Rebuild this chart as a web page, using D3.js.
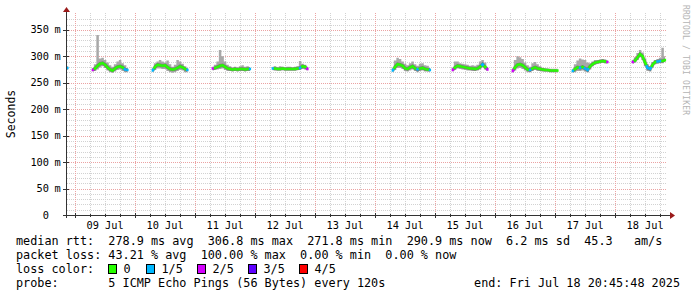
<!DOCTYPE html>
<html>
<head>
<meta charset="utf-8">
<script src="https://cdn.jsdelivr.net/npm/d3@7"></script>
<style>
  body { margin: 0; background: #fff; }
  text { font-family: "DejaVu Sans Mono", monospace; }
</style>
</head>
<body>
<div id="chart"></div>
<script>
// one entry per data run (hourly values from the start time)
const segStart = [
  "2025-07-08 20:00", "2025-07-09 07:00", "2025-07-10 07:00", "2025-07-11 07:00",
  "2025-07-12 07:00", "2025-07-14 07:00", "2025-07-15 07:00", "2025-07-16 07:00",
  "2025-07-17 07:00", "2025-07-18 07:00"
];
const medianRtt = [
  [278, 278],
  [274, 277, 282, 286, 287, 284, 279, 275, 273, 277, 280, 281, 279, 275, 274],
  [273, 280, 284, 283, 282, 283, 279, 276, 275, 276, 278, 281, 279, 276, 274],
  [277, 278, 280, 282, 283, 280, 277, 276, 275, 276, 275, 276, 276, 275, 276, 276],
  [277, 277, 276, 276, 277, 276, 276, 276, 276, 276, 277, 278, 281, 280, 276],
  [273, 280, 285, 284, 282, 277, 276, 279, 281, 277, 275, 277, 278, 276, 275, 274],
  [274, 279, 282, 281, 280, 279, 278, 277, 277, 276, 277, 280, 285, 280, 275],
  [272, 279, 284, 285, 283, 279, 275, 274, 277, 279, 277, 276, 275, 274, 274, 273, 273, 273, 273],
  [272, 276, 279, 278, 280, 277, 274, 281, 285, 288, 289, 290, 291, 290, 289],
  [289, 292, 298, 304, 300, 288, 278, 276, 284, 289, 290, 291, 291, 293]
];
const smokeHi = [
  [281, 281],
  [278, 285, 340, 296, 297, 293, 288, 283, 280, 285, 290, 293, 287, 283, 278],
  [276, 287, 290, 293, 290, 288, 292, 285, 280, 284, 293, 290, 286, 281, 277],
  [279, 284, 290, 312, 300, 290, 284, 281, 279, 280, 279, 281, 283, 280, 281, 279],
  [279, 281, 279, 281, 280, 279, 280, 280, 279, 280, 281, 291, 286, 284, 278],
  [276, 292, 297, 295, 290, 286, 283, 287, 290, 285, 282, 286, 287, 283, 282, 278],
  [277, 290, 290, 287, 286, 285, 284, 282, 283, 282, 284, 290, 293, 288, 279],
  [276, 293, 300, 298, 295, 288, 283, 280, 287, 289, 285, 281, 278, 277, 276, 276, 275, 275, 275],
  [275, 285, 292, 296, 294, 293, 288, 287, 290, 293, 293, 294, 295, 294, 291],
  [292, 298, 306, 312, 307, 296, 285, 281, 289, 293, 295, 297, 316, 300]
];
const smokeLo = [
  [274, 274],
  [271, 272, 275, 279, 281, 278, 273, 270, 269, 271, 274, 275, 272, 270, 270],
  [270, 274, 277, 277, 276, 276, 272, 270, 269, 270, 272, 274, 273, 270, 270],
  [273, 274, 275, 276, 277, 274, 272, 272, 271, 272, 271, 272, 272, 271, 272, 272],
  [274, 273, 273, 273, 274, 273, 273, 273, 273, 273, 274, 274, 276, 275, 273],
  [270, 274, 278, 278, 276, 272, 271, 273, 275, 272, 270, 272, 273, 271, 271, 271],
  [271, 274, 277, 276, 275, 274, 273, 273, 272, 272, 273, 275, 279, 275, 272],
  [269, 273, 277, 278, 276, 273, 270, 270, 272, 274, 272, 272, 271, 271, 271, 270, 270, 270, 270],
  [269, 270, 272, 272, 273, 271, 270, 275, 281, 284, 286, 287, 288, 287, 287],
  [286, 288, 293, 298, 293, 281, 272, 271, 279, 285, 286, 287, 287, 289]
];
// lost pings out of 5, one digit per hour
const lossFifths = [
  "11",
  "200000000000011",
  "100000000000001",
  "2000000000000001",
  "100000000001002",
  "1000000000100001",
  "200000000000102",
  "2000000100000000000",
  "100101100000002",
  "20000011001100"
];
const lossColors = ["#26ff00", "#00b8ff", "#d400ff", "#5e00ff", "#ff0000"];
const lossLabels = ["0", "1/5", "2/5", "3/5", "4/5"];
const yTicks = [0, 50, 100, 150, 200, 250, 300, 350];

const legendLines = [
  "median rtt:  278.9 ms avg  306.8 ms max  271.8 ms min  290.9 ms now  6.2 ms sd  45.3   am/s",
  "packet loss: 43.21 % avg  100.00 % max  0.00 % min  0.00 % now",
  "loss color:",
  "probe:       5 ICMP Echo Pings (56 Bytes) every 120s"
];
const endLabel = "end: Fri Jul 18 20:45:48 2025";

const W = 697, H = 297;
const parseT = d3.timeParse("%Y-%m-%d %H:%M:%S");
const t0 = parseT("2025-07-08 20:45:48"), t1 = parseT("2025-07-18 20:45:48");
const pL = 67, pR = 667, pT = 15, pB = 215;

const x = d3.scaleTime().domain([t0, t1]).range([pL, pR]);
const y = d3.scaleLinear().domain([0, 378]).range([pB, pT]);

const svg = d3.select("#chart").append("svg")
  .attr("width", W).attr("height", H)
  .style("display", "block");
svg.append("rect").attr("width", W).attr("height", H).attr("fill", "#fff");

svg.append("clipPath").attr("id", "clip")
  .append("rect").attr("x", pL).attr("y", pT - 3)
  .attr("width", pR - pL).attr("height", pB - pT + 3);

// grid
const grid = svg.append("g").attr("stroke-dasharray", "1,1").attr("stroke-width", 1);
const minorY = d3.range(10, 378, 10).filter(v => v % 50 !== 0);
grid.selectAll(".ym").data(minorY).enter().append("line")
  .attr("x1", pL).attr("x2", pR)
  .attr("y1", d => Math.round(y(d)) + 0.5).attr("y2", d => Math.round(y(d)) + 0.5)
  .attr("stroke", "#d2d2d2");
const hours6 = d3.timeHour.every(6).range(t0, t1).filter(d => d.getHours() !== 0);
grid.selectAll(".xm").data(hours6).enter().append("line")
  .attr("x1", d => Math.round(x(d)) + 0.5).attr("x2", d => Math.round(x(d)) + 0.5)
  .attr("y1", pT - 2).attr("y2", pB)
  .attr("stroke", "#d2d2d2");
grid.selectAll(".yM").data(yTicks.filter(d => d > 0)).enter().append("line")
  .attr("x1", pL).attr("x2", pR)
  .attr("y1", d => Math.round(y(d)) + 0.5).attr("y2", d => Math.round(y(d)) + 0.5)
  .attr("stroke", "#eba3a3");
const days = d3.timeDay.range(t0, t1);
grid.selectAll(".xM").data(days).enter().append("line")
  .attr("x1", d => Math.round(x(d)) + 0.5).attr("x2", d => Math.round(x(d)) + 0.5)
  .attr("y1", pT - 2).attr("y2", pB)
  .attr("stroke", "#eba3a3");

// data
const plot = svg.append("g").attr("clip-path", "url(#clip)");
const runs = segStart.map((s, i) => {
  const st = parseT(s + ":00");
  return medianRtt[i].map((v, j) => ({
    t: d3.timeHour.offset(st, j), med: v, hi: smokeHi[i][j], lo: smokeLo[i][j],
    loss: +lossFifths[i][j]
  }));
});

const smoke = d3.area().curve(d3.curveStep)
  .x(d => x(d.t)).y0(d => y(d.lo)).y1(d => y(d.hi));
plot.selectAll(".smoke").data(runs).enter().append("path")
  .attr("d", smoke).attr("fill", "#a8a8a8");

const medLine = d3.line().x(d => x(d.t)).y(d => y(d.med));
plot.selectAll(".medshade").data(runs).enter().append("path")
  .attr("d", medLine).attr("fill", "none")
  .attr("stroke", "#444").attr("stroke-width", 3.5).attr("stroke-opacity", 0.45);

runs.forEach(run => {
  run.forEach((d, j) => {
    const px = x(d.t), py = y(d.med);
    const pts = [];
    if (j > 0) pts.push([(x(run[j - 1].t) + px) / 2, (y(run[j - 1].med) + py) / 2]);
    else pts.push([px - 1, py]);
    pts.push([px, py]);
    if (j < run.length - 1) pts.push([(x(run[j + 1].t) + px) / 2, (y(run[j + 1].med) + py) / 2]);
    else pts.push([px + 1, py]);
    plot.append("path").attr("d", d3.line()(pts))
      .attr("fill", "none").attr("stroke", lossColors[d.loss])
      .attr("stroke-width", 2.5).attr("stroke-linecap", "butt");
  });
});

// axes
const axisCol = "#333";
const ax = svg.append("g").attr("stroke", axisCol).attr("stroke-width", 1);
ax.append("line").attr("x1", 63).attr("x2", 670).attr("y1", pB + 0.5).attr("y2", pB + 0.5);
ax.append("line").attr("x1", pL - 0.5).attr("x2", pL - 0.5).attr("y1", 218).attr("y2", 11);
ax.selectAll(".tx").data(days).enter().append("line")
  .attr("x1", d => Math.round(x(d)) + 0.5).attr("x2", d => Math.round(x(d)) + 0.5)
  .attr("y1", pB - 2).attr("y2", pB + 3);
ax.selectAll(".tx2").data(hours6).enter().append("line")
  .attr("x1", d => Math.round(x(d)) + 0.5).attr("x2", d => Math.round(x(d)) + 0.5)
  .attr("y1", pB - 1).attr("y2", pB + 2);
ax.selectAll(".ty").data(yTicks).enter().append("line")
  .attr("x1", pL - 4).attr("x2", pL + 2)
  .attr("y1", d => Math.round(y(d)) + 0.5).attr("y2", d => Math.round(y(d)) + 0.5);
svg.append("path").attr("d", "M670,212 L675,215.5 L670,219 Z").attr("fill", "#9a1a1a");
svg.append("path").attr("d", "M63,12 L66.5,7 L70,12 Z").attr("fill", "#9a1a1a");

// tick labels
const yl = svg.append("g").attr("font-size", "10.3px").attr("fill", "#000");
yl.selectAll(".yn").data(yTicks).enter().append("text")
  .attr("x", 49).attr("y", d => y(d) + 3.5).attr("text-anchor", "end")
  .text(d => d);
yl.selectAll(".yu").data(yTicks.filter(d => d > 0)).enter().append("text")
  .attr("x", 54.5).attr("y", d => y(d) + 3.5).text("m");
const noons = days.map(d => d3.timeHour.offset(d, 12)).filter(d => d < t1);
yl.selectAll(".xl").data(noons).enter().append("text")
  .attr("x", d => x(d)).attr("y", 228.5).attr("text-anchor", "middle")
  .text(d3.timeFormat("%d %b"));

svg.append("text").attr("transform", "translate(15,114) rotate(-90)")
  .attr("text-anchor", "middle").attr("font-size", "11.5px").text("Seconds");

svg.append("text").attr("transform", "translate(683,5) rotate(90)")
  .attr("font-size", "8px").attr("fill", "#b4b4b4")
  .attr("textLength", 110).attr("lengthAdjust", "spacing")
  .text("RRDTOOL / TOBI OETIKER");

// legend
const lg = svg.append("g").attr("font-size", "11.8px").attr("fill", "#000")
  .style("white-space", "pre");
legendLines.forEach((s, i) => {
  lg.append("text").attr("x", 16).attr("y", 245 + i * 14).attr("xml:space", "preserve").text(s);
});
lg.append("text").attr("x", 680).attr("y", 287).attr("text-anchor", "end").text(endLabel);
const boxX = [108.5, 146.5, 197.5, 248.5, 299.5];
lossColors.forEach((c, i) => {
  lg.append("rect").attr("x", boxX[i]).attr("y", 264.5).attr("width", 8).attr("height", 9)
    .attr("fill", c).attr("stroke", "#000");
  lg.append("text").attr("x", boxX[i] + 15).attr("y", 273).text(lossLabels[i]);
});
</script>
</body>
</html>
